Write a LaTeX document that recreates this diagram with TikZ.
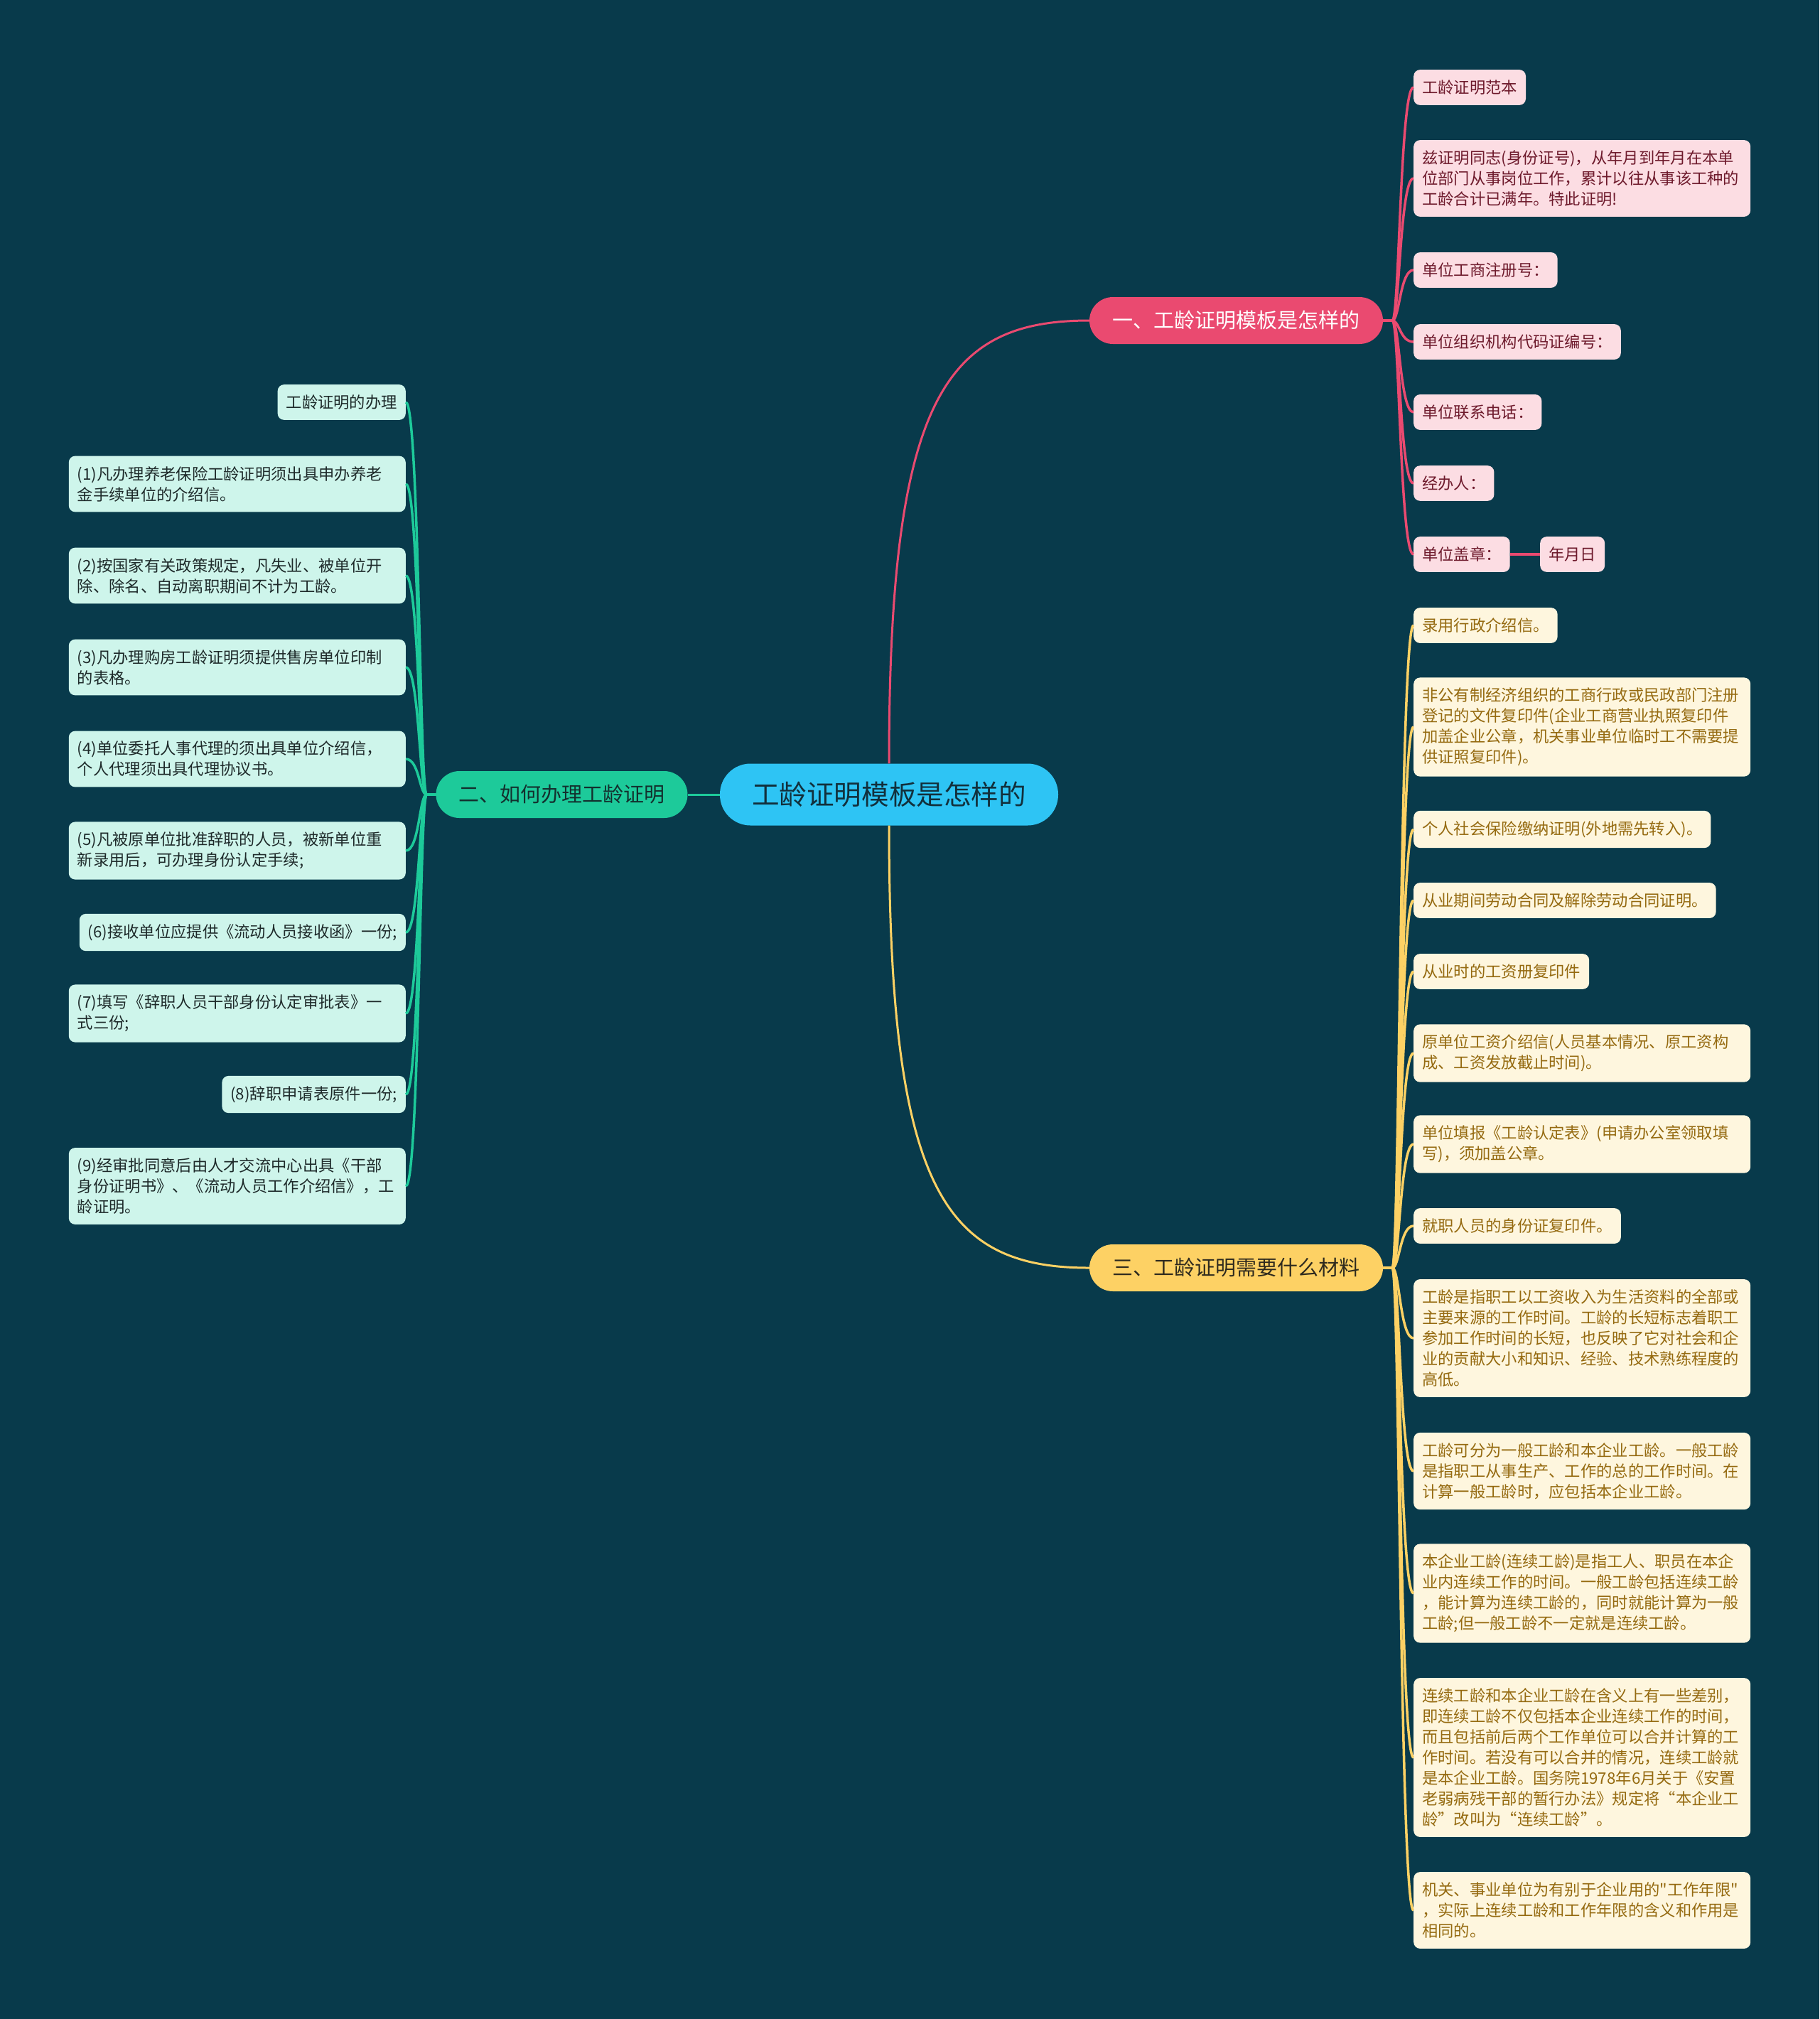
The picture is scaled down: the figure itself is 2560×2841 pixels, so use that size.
\documentclass[tikz,border=0pt]{standalone}
\usepackage{fontspec}
\setmainfont{Noto Sans CJK SC}[Ligatures=TeXOff]
\definecolor{bg}{HTML}{083A4B}
\definecolor{cen}{HTML}{2EC4F4}
\definecolor{centext}{HTML}{12303C}
\definecolor{pk}{HTML}{EA4A70}
\definecolor{pkfill}{HTML}{FCDDE3}
\definecolor{pktext}{HTML}{6E1A2C}
\definecolor{yl}{HTML}{FDD164}
\definecolor{yltext0}{HTML}{2E2A1E}
\definecolor{ylfill}{HTML}{FEF6DE}
\definecolor{yltext}{HTML}{956A10}
\definecolor{gn}{HTML}{1DCA9A}
\definecolor{gntext0}{HTML}{13302E}
\definecolor{gnfill}{HTML}{CEF5EB}
\definecolor{gntext}{HTML}{1E2A2A}
\begin{document}
\begin{tikzpicture}[x=1pt,y=-1pt,
  leaf/.style={rounded corners=9pt, inner xsep=12pt, inner ysep=14.5pt,
    font=\fontsize{22.3pt}{29pt}\selectfont, align=left},
  wide/.style={text width=450pt},
  pleaf/.style={leaf, fill=pkfill, text=pktext, anchor=west},
  yleaf/.style={leaf, fill=ylfill, text=yltext, anchor=west},
  gleaf/.style={leaf, fill=gnfill, text=gntext, anchor=east},
  branch/.style={rounded corners=33pt, minimum height=66pt, inner xsep=32pt,
    font=\fontsize{29pt}{36pt}\selectfont},
  pline/.style={draw=pk, line width=3.5pt},
  yline/.style={draw=yl, line width=3.5pt},
  gline/.style={draw=gn, line width=3.5pt},
]
\useasboundingbox (0,0) rectangle (2560,2841);
\fill[bg] (0,0) rectangle (2560,2841);

% central and branches
\node[rounded corners=43pt, fill=cen, text=centext, minimum width=476pt, minimum height=87pt,
  font=\fontsize{38.6pt}{46pt}\selectfont] (c) at (1251,1118) {工龄证明模板是怎样的};
\node[branch, fill=pk, text=white, minimum width=413pt] (b1) at (1739.5,451) {一、工龄证明模板是怎样的};
\node[branch, fill=yl, text=yltext0, minimum width=413pt] (b3) at (1739.5,1784) {三、工龄证明需要什么材料};
\node[branch, fill=gn, text=gntext0, minimum width=353pt] (b2) at (790.5,1118) {二、如何办理工龄证明};

% pink leaves
\node[pleaf] (p1) at (1989,123) {工龄证明范本};
\node[pleaf,wide] (p2) at (1989,251) {兹证明同志(身份证号)，从年月到年月在本单\\位部门从事岗位工作，累计以往从事该工种的\\工龄合计已满年。特此证明!};
\node[pleaf] (p3) at (1989,380) {单位工商注册号：};
\node[pleaf] (p4) at (1989,481) {单位组织机构代码证编号：};
\node[pleaf] (p5) at (1989,580) {单位联系电话：};
\node[pleaf] (p6) at (1989,680) {经办人：};
\node[pleaf] (p7) at (1989,780) {单位盖章：};
\node[pleaf] (p8) at (2167,780) {年月日};

% yellow leaves
\node[yleaf] (y1) at (1989,880) {录用行政介绍信。};
\node[yleaf,wide] (y2) at (1989,1023) {非公有制经济组织的工商行政或民政部门注册\\登记的文件复印件(企业工商营业执照复印件\\加盖企业公章，机关事业单位临时工不需要提\\供证照复印件)。};
\node[yleaf] (y3) at (1989,1167) {个人社会保险缴纳证明(外地需先转入)。};
\node[yleaf] (y4) at (1989,1267) {从业期间劳动合同及解除劳动合同证明。};
\node[yleaf] (y5) at (1989,1367) {从业时的工资册复印件};
\node[yleaf,wide] (y6) at (1989,1482) {原单位工资介绍信(人员基本情况、原工资构\\成、工资发放截止时间)。};
\node[yleaf,wide] (y7) at (1989,1610) {单位填报《工龄认定表》(申请办公室领取填\\写)，须加盖公章。};
\node[yleaf] (y8) at (1989,1725) {就职人员的身份证复印件。};
\node[yleaf,wide] (y9) at (1989,1883) {工龄是指职工以工资收入为生活资料的全部或\\主要来源的工作时间。工龄的长短标志着职工\\参加工作时间的长短，也反映了它对社会和企\\业的贡献大小和知识、经验、技术熟练程度的\\高低。};
\node[yleaf,wide] (y10) at (1989,2070) {工龄可分为一般工龄和本企业工龄。一般工龄\\是指职工从事生产、工作的总的工作时间。在\\计算一般工龄时，应包括本企业工龄。};
\node[yleaf,wide] (y11) at (1989,2242) {本企业工龄(连续工龄)是指工人、职员在本企\\业内连续工作的时间。一般工龄包括连续工龄\\，能计算为连续工龄的，同时就能计算为一般\\工龄;但一般工龄不一定就是连续工龄。};
\node[yleaf,wide] (y12) at (1989,2473) {连续工龄和本企业工龄在含义上有一些差别，\\即连续工龄不仅包括本企业连续工作的时间，\\而且包括前后两个工作单位可以合并计算的工\\作时间。若没有可以合并的情况，连续工龄就\\是本企业工龄。国务院1978年6月关于《安置\\老弱病残干部的暂行办法》规定将“本企业工\\龄”改叫为“连续工龄”。};
\node[yleaf,wide] (y13) at (1989,2688) {机关、事业单位为有别于企业用的"工作年限"\\，实际上连续工龄和工作年限的含义和作用是\\相同的。};

% green leaves
\node[gleaf] (g1) at (571,566) {工龄证明的办理};
\node[gleaf,wide] (g2) at (571,681) {(1)凡办理养老保险工龄证明须出具申办养老\\金手续单位的介绍信。};
\node[gleaf,wide] (g3) at (571,810) {(2)按国家有关政策规定，凡失业、被单位开\\除、除名、自动离职期间不计为工龄。};
\node[gleaf,wide] (g4) at (571,939) {(3)凡办理购房工龄证明须提供售房单位印制\\的表格。};
\node[gleaf,wide] (g5) at (571,1068) {(4)单位委托人事代理的须出具单位介绍信，\\个人代理须出具代理协议书。};
\node[gleaf,wide] (g6) at (571,1197) {(5)凡被原单位批准辞职的人员，被新单位重\\新录用后，可办理身份认定手续;};
\node[gleaf] (g7) at (571,1312) {(6)接收单位应提供《流动人员接收函》一份;};
\node[gleaf,wide] (g8) at (571,1426) {(7)填写《辞职人员干部身份认定审批表》一\\式三份;};
\node[gleaf] (g9) at (571,1540) {(8)辞职申请表原件一份;};
\node[gleaf,wide] (g10) at (571,1669) {(9)经审批同意后由人才交流中心出具《干部\\身份证明书》、《流动人员工作介绍信》，工\\龄证明。};

% main connectors
\draw[draw=pk, line width=3pt] (c.north) .. controls +(0,-514) and +(-203,0) .. (b1.west);
\draw[draw=yl, line width=3pt] (c.south) .. controls +(0,514) and +(-203,0) .. (b3.west);
\draw[draw=gn, line width=3pt] (c.west) -- (b2.east);

% leaf connectors
\foreach \n in {p1,p2,p3,p4,p5,p6,p7}
  \draw[pline] (b1.east) -- ++(13,0) .. controls +(10,0) and +(-19,0) .. (\n.west);
\draw[pline] (p7.east) -- (p8.west);
\foreach \n in {y1,y2,y3,y4,y5,y6,y7,y8,y9,y10,y11,y12,y13}
  \draw[yline] (b3.east) -- ++(13,0) .. controls +(10,0) and +(-19,0) .. (\n.west);
\foreach \n in {g1,g2,g3,g4,g5,g6,g7,g8,g9,g10}
  \draw[gline] (b2.west) -- ++(-13,0) .. controls +(-10,0) and +(19,0) .. (\n.east);
\end{tikzpicture}
\end{document}
